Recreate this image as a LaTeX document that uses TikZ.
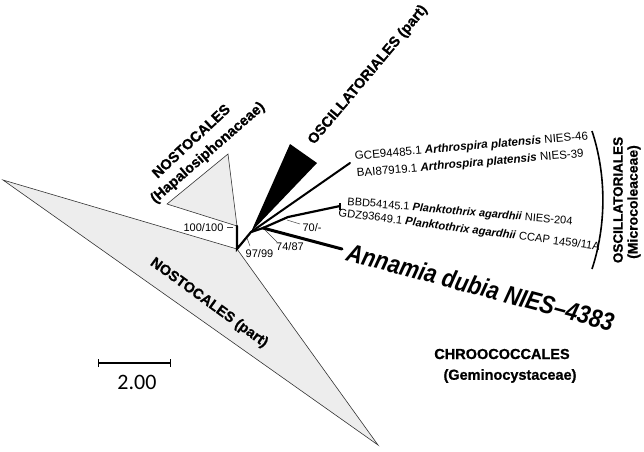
\documentclass[tikz,border=0pt]{standalone}
\usepackage{fontspec}
\setmainfont{Liberation Sans}
\newfontfamily\scalefnt{Carlito}
\newfontfamily\heavyfont[FakeBold=0.8]{Liberation Sans Bold}
\begin{document}
\begin{tikzpicture}[x=1pt,y=-1pt,
  clade/.style={draw=black!80, line width=0.6pt, fill=black!7},
  br/.style={line width=2.2pt, line cap=round},
  ticky/.style={line width=0.5pt, draw=black!75},
  boot/.style={font=\fontsize{11}{11}\selectfont, inner sep=0pt},
  taxon/.style={font=\fontsize{11}{11}\selectfont, inner sep=0pt, anchor=base west},
  grp/.style={font=\fontsize{14.5}{14.5}\selectfont\heavyfont, inner sep=0pt},
]
\useasboundingbox (0,0) rectangle (644,451);
% coordinates
\coordinate (root) at (237,249);
\coordinate (bigL) at (3,180);
\coordinate (bigB) at (378,445);
\coordinate (hapT) at (228,154);
\coordinate (hapL) at (167,204);
\coordinate (hapB) at (237,226);
\coordinate (nA) at (251,232);
\coordinate (oscL) at (290,144);
\coordinate (oscR) at (317,163);
\coordinate (nB) at (263,228);
\coordinate (nC) at (288,217);
\coordinate (arth) at (350,163);
\coordinate (plank) at (340,206);
\coordinate (plankT) at (340,203);
\coordinate (plankD) at (340,210);
\coordinate (ann) at (342,249);
% clades
\path[clade] (root) -- (bigL) -- (bigB) -- cycle;
\path[clade] (hapB) -- (hapT) -- (hapL) -- cycle;
\fill[black] (nA) -- (oscL) -- (oscR) -- cycle;
% branches
\draw[br] (hapB) -- (root) -- (nA) -- (nB);
\draw[line width=2pt, line cap=round] (nA) -- (arth);
\draw[br] (nB) -- (nC) -- (plank);
\draw[line width=1.6pt] (plankT) -- (plankD);
\draw[line width=3pt, line cap=round] (nB) -- (ann);
% bootstrap ticks and labels
\coordinate (t1a) at (227,227); \coordinate (t1b) at (233,227);
\coordinate (t2a) at (247,238); \coordinate (t2b) at (250,246);
\coordinate (t3a) at (265,230); \coordinate (t3b) at (277,242);
\coordinate (t4a) at (287,220); \coordinate (t4b) at (300,224);
\draw[ticky] (t1a) -- (t1b);
\draw[ticky] (t2a) -- (t2b);
\draw[ticky] (t3a) -- (t3b);
\draw[ticky] (t4a) -- (t4b);
\node[boot] (b1) at (203.5,228) {100/100};
\node[boot] (b2) at (259.5,254) {97/99};
\node[boot] (b3) at (290,247) {74/87};
\node[boot] (b4) at (312,228) {70/-};
% taxa
\node[taxon, rotate=5, font=\fontsize{11.6}{11.6}\selectfont] (gce) at (355,160) {GCE94485.1 \textbf{\textit{Arthrospira platensis}} NIES-46};
\node[taxon, rotate=5, font=\fontsize{11.6}{11.6}\selectfont] (bai) at (357,177) {BAI87919.1 \textbf{\textit{Arthrospira platensis}} NIES-39};
\node[taxon, rotate=-5] (bbd) at (347,205) {BBD54145.1 \textbf{\textit{Planktothrix agardhii}} NIES-204};
\node[taxon, rotate=-7.5, font=\fontsize{11.2}{11.2}\selectfont] (gdz) at (338,216) {GDZ93649.1 \textbf{\textit{Planktothrix agardhii}} CCAP 1459/11A};
\node[inner sep=0pt, anchor=base west, rotate=-15, xscale=0.86,
  font=\fontsize{25.5}{25.5}\selectfont\bfseries\itshape] (annl) at (345,260) {Annamia dubia NIES–4383};
% group labels
\node[grp, rotate=43] (nos1) at (191,141) {NOSTOCALES};
\node[grp, rotate=41] (nos2) at (208,153) {(Hapalosiphonaceae)};
\node[grp, rotate=50] (osc) at (368,75) {OSCILLATORIALES (part)};
\node[grp, rotate=-36] (nosp) at (209,303) {NOSTOCALES (part)};
\node[grp] (chr1) at (502,354) {CHROOCOCCALES};
\node[grp] (chr2) at (510,376) {(Geminocystaceae)};
\node[grp, rotate=90, font=\fontsize{13.5}{13.5}\selectfont\heavyfont] (osc2) at (618,200) {OSCILLATORIALES};
\node[grp, rotate=90, font=\fontsize{14}{14}\selectfont\heavyfont] (mic) at (634,202) {(Microcoleaceae)};
% bracket
\coordinate (brT) at (592,131);
\coordinate (brB) at (592,269);
\draw[line width=1.6pt] (brT) .. controls (606.5,175) and (606.5,225) .. (brB);
% scale bar
\coordinate (s1) at (98,363);
\coordinate (s2) at (170,363);
\draw[line width=1.2pt] (s1) -- (s2);
\draw[line width=1pt] ([yshift=-4pt]s1) -- ([yshift=4pt]s1);
\draw[line width=1pt] ([yshift=-4pt]s2) -- ([yshift=4pt]s2);
\node[inner sep=0pt, font=\scalefnt\fontsize{22}{22}\selectfont] (sl) at (137,382) {2.00};
\end{tikzpicture}
\end{document}
